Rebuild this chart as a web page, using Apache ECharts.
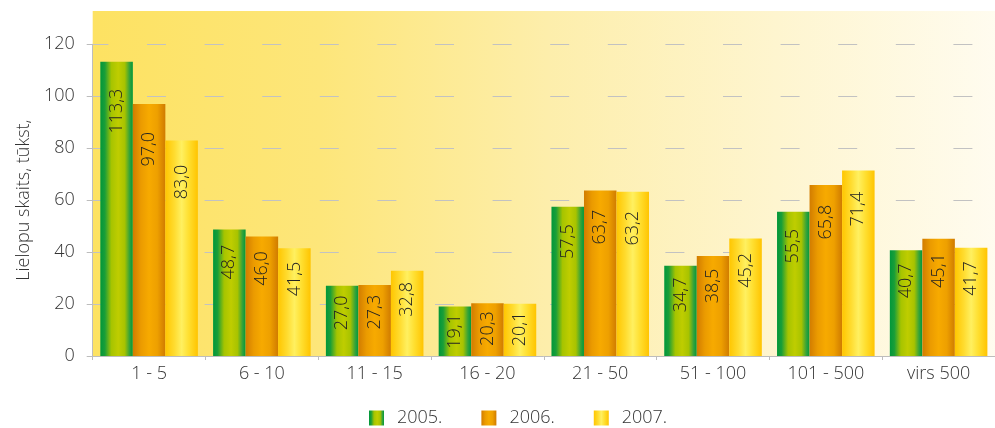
<!DOCTYPE html>
<html>
<head>
<meta charset="utf-8">
<script src="https://cdn.jsdelivr.net/npm/echarts@6/dist/echarts.min.js"></script>
<style>
html,body{margin:0;padding:0;background:#fff;}
#chart{width:995px;height:428px;}
</style>
</head>
<body>
<div id="chart"></div>
<script>
const categories = ['1 - 5', '6 - 10', '11 - 15', '16 - 20', '21 - 50', '51 - 100', '101 - 500', 'virs 500'];
const seriesNames = ['2005.', '2006.', '2007.'];
const values2005 = [113.3, 48.7, 27.0, 19.1, 57.5, 34.7, 55.5, 40.7];
const values2006 = [97.0, 46.0, 27.3, 20.3, 63.7, 38.5, 65.8, 45.1];
const values2007 = [83.0, 41.5, 32.8, 20.1, 63.2, 45.2, 71.4, 41.7];
const yTicks = {min: 0, max: 120, interval: 20};
const yAxisName = 'Lielopu skaits, tūkst,';

const FONT = '"Open Sans", "Noto Sans", sans-serif';
const FW = 300;
function grad(stops) {
  return new echarts.graphic.LinearGradient(0, 0, 1, 0,
    stops.map(s => ({offset: s[0], color: s[1]})));
}
const colors = [
  grad([[0, '#00973a'], [0.14, '#1a9e38'], [0.34, '#a6c400'], [0.55, '#bfcd00'], [0.75, '#a8c300'], [0.9, '#35a33a'], [1, '#00983a']]),
  grad([[0, '#d27c00'], [0.25, '#eb9b00'], [0.5, '#f7aa00'], [0.75, '#eea000'], [1, '#d07b00']]),
  grad([[0, '#ffc600'], [0.28, '#ffdc30'], [0.5, '#fff060'], [0.72, '#ffdf30'], [1, '#ffc400']])
];
const dataSets = [values2005, values2006, values2007];

const chart = echarts.init(document.getElementById('chart'), null, {renderer: 'canvas'});
chart.setOption({
  animation: false,
  textStyle: {fontFamily: FONT, fontWeight: FW},
  graphic: [{
    type: 'rect', z: -10, silent: true,
    shape: {x: 92.7, y: 11, width: 910, height: 345},
    style: {fill: new echarts.graphic.LinearGradient(0, 0, 1, 0, [
      {offset: 0, color: '#fde262'}, {offset: 0.25, color: '#fde67a'},
      {offset: 0.5, color: '#fdeeab'}, {offset: 0.75, color: '#fef5cf'},
      {offset: 1, color: '#fffcf0'}])}
  }],
  legend: {
    left: 364, top: 404,
    itemWidth: 15, itemHeight: 15, itemGap: 39,
    icon: 'rect',
    textStyle: {fontFamily: FONT, fontWeight: FW, fontSize: 18, color: '#333', padding: [0, 0, 0, 8]},
    data: seriesNames
  },
  grid: {left: 92.7, right: -4, top: 44.3, bottom: 72, containLabel: false},
  xAxis: {
    type: 'category', data: categories,
    axisLine: {lineStyle: {color: '#bdbdbd', width: 1}},
    axisTick: {show: true, length: 4, lineStyle: {color: '#bdbdbd'}},
    axisLabel: {fontSize: 18, fontWeight: FW, color: '#333', margin: 9, fontFamily: FONT}
  },
  yAxis: {
    type: 'value', min: yTicks.min, max: yTicks.max, interval: yTicks.interval,
    name: yAxisName, nameLocation: 'middle', nameGap: 60, nameRotate: 90,
    nameTextStyle: {fontSize: 18, fontWeight: FW, color: '#333', fontFamily: FONT},
    axisLine: {show: true, lineStyle: {color: '#bdbdbd'}},
    axisTick: {show: true, length: 6, lineStyle: {color: '#bdbdbd'}},
    axisLabel: {fontSize: 18, fontWeight: FW, color: '#333', margin: 18, fontFamily: FONT},
    splitLine: {show: true, lineStyle: {color: '#c2c2c2', width: 1.2, type: [19, 38.6], dashOffset: 3.3}}
  },
  series: seriesNames.map((n, i) => ({
    name: n, type: 'bar', data: dataSets[i],
    barGap: '0%', barCategoryGap: '13.5%',
    itemStyle: {color: colors[i]},
    label: {
      show: true, position: ['50%', '10%'], offset: [-20, 0], rotate: 90,
      align: 'center', verticalAlign: 'middle',
      fontSize: 18, fontWeight: FW, color: '#222', fontFamily: FONT,
      formatter: p => p.value.toFixed(1).replace('.', ',')
    }
  }))
});
</script>
</body>
</html>
